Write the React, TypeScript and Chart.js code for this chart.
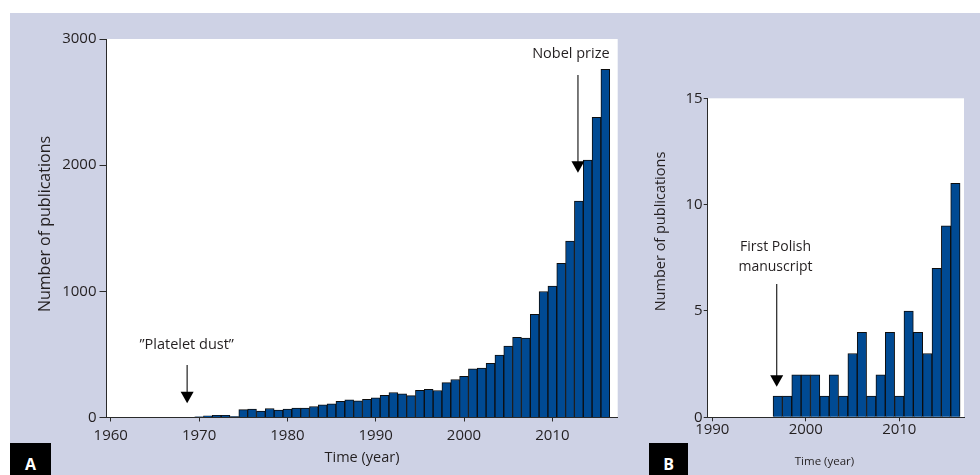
import React, { useEffect, useRef } from "react";
import { Chart, registerables } from "chart.js";

Chart.register(...registerables);

const FONT = "'Open Sans', 'Noto Sans', sans-serif";
const BG = "#ced2e5";
const BAR = "#004a93";
const EDGE = "#0d0d0d";
const AXIS = "#2a2a2a";
const TEXT = "#231f20";

// ---------- Panel A data ----------
const yearsA = [
  1970, 1971, 1972, 1973, 1974, 1975, 1976, 1977, 1978, 1979,
  1980, 1981, 1982, 1983, 1984, 1985, 1986, 1987, 1988, 1989,
  1990, 1991, 1992, 1993, 1994, 1995, 1996, 1997, 1998, 1999,
  2000, 2001, 2002, 2003, 2004, 2005, 2006, 2007, 2008, 2009,
  2010, 2011, 2012, 2013, 2014, 2015, 2016,
];
const publicationsA = [
  6, 13, 18, 18, 8, 63, 66, 50, 71, 58,
  66, 74, 74, 87, 100, 108, 129, 140, 132, 145,
  155, 176, 198, 187, 174, 216, 224, 214, 277, 301,
  327, 385, 391, 430, 495, 567, 636, 630, 817, 999,
  1041, 1221, 1398, 1715, 2040, 2380, 2760,
];
const xTicksA = [1960, 1970, 1980, 1990, 2000, 2010];
const yTicksA = [0, 1000, 2000, 3000];

// ---------- Panel B data ----------
const yearsB = [
  1997, 1998, 1999, 2000, 2001, 2002, 2003, 2004, 2005, 2006,
  2007, 2008, 2009, 2010, 2011, 2012, 2013, 2014, 2015, 2016,
];
const publicationsB = [1, 1, 2, 2, 2, 1, 2, 1, 3, 4, 1, 2, 4, 1, 5, 4, 3, 7, 9, 11];
const xTicksB = [1990, 2000, 2010];
const yTicksB = [0, 5, 10, 15];

// ---------- Text ----------
const xTitle = "Time (year)";
const yTitle = "Number of publications";
const noteDust = ["\u201DPlatelet dust\u201D"];
const noteNobel = ["Nobel prize"];
const notePolish = ["First Polish", "manuscript"];

type Note = {
  lines: string[];
  textX: number;
  textY: number;
  arrowX: number;
  arrowFrom: number;
  arrowTo: number;
};
type Title = { text: string; cx: number; cy: number; size: number; rotate?: boolean };

interface PanelSpec {
  years: number[];
  values: number[];
  xMin: number;
  xMax: number;
  yMax: number;
  xTicks: number[];
  yTicks: number[];
  padding: { left: number; top: number; right: number; bottom: number };
  yAxisWidth: number;
  xAxisHeight: number;
  yTickLen: number;
  yTickPad: number;
  xTickLen: number;
  xTickPad: number;
  tickSize: number;
  titles: Title[];
  notes: Note[];
  noteSize: number;
  noteLineGap: number;
}

const specA: PanelSpec = {
  years: yearsA,
  values: publicationsA,
  xMin: 1959.52,
  xMax: 2017.4,
  yMax: 3000,
  xTicks: xTicksA,
  yTicks: yTicksA,
  padding: { left: 0, top: 39, right: 22.3, bottom: 0 },
  yAxisWidth: 106.5,
  xAxisHeight: 57.5,
  yTickLen: 7,
  yTickPad: 3,
  xTickLen: 4,
  xTickPad: 7,
  tickSize: 15,
  titles: [
    { text: xTitle, cx: 362, cy: 458, size: 14.5 },
    { text: yTitle, cx: 45, cy: 224, size: 16, rotate: true },
  ],
  notes: [
    { lines: noteDust, textX: 1968.6, textY: 575, arrowX: 1968.65, arrowFrom: 416, arrowTo: 112 },
    { lines: noteNobel, textX: 2012.1, textY: 2881, arrowX: 2012.9, arrowFrom: 2714, arrowTo: 1940 },
  ],
  noteSize: 14.5,
  noteLineGap: 20,
};

const specB: PanelSpec = {
  years: yearsB,
  values: publicationsB,
  xMin: 1989.51,
  xMax: 2016.92,
  yMax: 15,
  xTicks: xTicksB,
  yTicks: yTicksB,
  padding: { left: 0, top: 98.3, right: 16, bottom: 0 },
  yAxisWidth: 67.7,
  xAxisHeight: 57.7,
  yTickLen: 4,
  yTickPad: 1,
  xTickLen: 4,
  xTickPad: 1,
  tickSize: 15,
  titles: [
    { text: xTitle, cx: 184.5, cy: 462, size: 11.5 },
    { text: yTitle, cx: 20.5, cy: 231.5, size: 14.5, rotate: true },
  ],
  notes: [
    { lines: notePolish, textX: 1996.76, textY: 8.03, arrowX: 1996.89, arrowFrom: 6.27, arrowTo: 1.44 },
  ],
  noteSize: 14,
  noteLineGap: 20,
};

function buildChart(canvas: HTMLCanvasElement, s: PanelSpec) {
  const overlay = {
    id: "overlay",
    beforeDraw(chart: any) {
      const { ctx, chartArea: a } = chart;
      ctx.save();
      ctx.fillStyle = "#ffffff";
      ctx.fillRect(a.left, a.top, a.right - a.left, a.bottom - a.top);
      ctx.restore();
    },
    afterDraw(chart: any) {
      const { ctx } = chart;
      const x = chart.scales.x;
      const y = chart.scales.y;
      ctx.save();
      ctx.textAlign = "center";
      ctx.textBaseline = "middle";
      for (const n of s.notes) {
        ctx.fillStyle = TEXT;
        ctx.font = `${s.noteSize}px ${FONT}`;
        const tx = x.getPixelForValue(n.textX);
        const ty = y.getPixelForValue(n.textY);
        n.lines.forEach((ln, i) => ctx.fillText(ln, tx, ty + i * s.noteLineGap));
        const ax = x.getPixelForValue(n.arrowX);
        const y0 = y.getPixelForValue(n.arrowFrom);
        const y1 = y.getPixelForValue(n.arrowTo);
        ctx.strokeStyle = "#222";
        ctx.lineWidth = 1.2;
        ctx.beginPath();
        ctx.moveTo(ax, y0);
        ctx.lineTo(ax, y1 - 10);
        ctx.stroke();
        ctx.fillStyle = "#000";
        ctx.beginPath();
        ctx.moveTo(ax - 6.5, y1 - 11.5);
        ctx.lineTo(ax + 6.5, y1 - 11.5);
        ctx.lineTo(ax, y1);
        ctx.closePath();
        ctx.fill();
      }
      for (const t of s.titles) {
        ctx.fillStyle = TEXT;
        ctx.font = `${t.size}px ${FONT}`;
        ctx.save();
        ctx.translate(t.cx, t.cy);
        if (t.rotate) ctx.rotate(-Math.PI / 2);
        ctx.fillText(t.text, 0, 0);
        ctx.restore();
      }
      ctx.restore();
    },
  };

  return new Chart(canvas, {
    type: "bar",
    data: {
      datasets: [
        {
          data: s.years.map((yr, i) => ({ x: yr, y: s.values[i] })),
          backgroundColor: BAR,
          borderColor: EDGE,
          borderWidth: 1,
          barPercentage: 1,
          categoryPercentage: 1,
        } as any,
      ],
    },
    options: {
      responsive: false,
      animation: false,
      devicePixelRatio: 1,
      layout: { padding: s.padding },
      plugins: {
        legend: { display: false },
        tooltip: { enabled: false },
        title: { display: false },
      },
      scales: {
        x: {
          type: "linear",
          min: s.xMin,
          max: s.xMax,
          offset: false,
          afterBuildTicks: (sc: any) => {
            sc.ticks = s.xTicks.map((v) => ({ value: v }));
          },
          afterFit: (sc: any) => {
            sc.height = s.xAxisHeight;
          },
          grid: {
            display: true,
            drawOnChartArea: false,
            drawTicks: true,
            tickLength: s.xTickLen,
            color: AXIS,
            offset: false,
          },
          border: { display: true, color: AXIS, width: 1 },
          ticks: {
            color: TEXT,
            font: { family: FONT, size: s.tickSize, lineHeight: 1 },
            padding: s.xTickPad,
            maxRotation: 0,
            autoSkip: false,
            callback: (v: any) => String(v),
          },
        },
        y: {
          type: "linear",
          min: 0,
          max: s.yMax,
          afterBuildTicks: (sc: any) => {
            sc.ticks = s.yTicks.map((v) => ({ value: v }));
          },
          afterFit: (sc: any) => {
            sc.width = s.yAxisWidth;
          },
          grid: {
            display: true,
            drawOnChartArea: false,
            drawTicks: true,
            tickLength: s.yTickLen,
            color: AXIS,
          },
          border: { display: true, color: AXIS, width: 1 },
          ticks: {
            color: TEXT,
            font: { family: FONT, size: s.tickSize, lineHeight: 1 },
            padding: s.yTickPad,
            autoSkip: false,
            callback: (v: any) => String(v),
          },
        },
      },
    } as any,
    plugins: [overlay],
  });
}

const labelBox: React.CSSProperties = {
  position: "absolute",
  top: 443,
  height: 32,
  boxSizing: "border-box",
  paddingTop: 13,
  background: "#000",
  color: "#fff",
  fontFamily: FONT,
  fontWeight: 700,
  fontSize: 16,
  lineHeight: 1,
  textAlign: "center",
};

export default function App() {
  const refA = useRef<HTMLCanvasElement>(null);
  const refB = useRef<HTMLCanvasElement>(null);

  useEffect(() => {
    const a = buildChart(refA.current as HTMLCanvasElement, specA);
    const b = buildChart(refB.current as HTMLCanvasElement, specB);
    return () => {
      a.destroy();
      b.destroy();
    };
  }, []);

  return (
    <div
      style={{
        position: "absolute",
        left: 0,
        top: 0,
        width: 980,
        height: 475,
        background: "#fff",
        overflow: "hidden",
      }}
    >
      <div style={{ position: "absolute", left: 10, top: 13, right: 0, bottom: 0, background: BG }} />
      <canvas
        ref={refA}
        width={640}
        height={475}
        style={{ position: "absolute", left: 0, top: 0, width: 640, height: 475 }}
      />
      <canvas
        ref={refB}
        width={340}
        height={475}
        style={{ position: "absolute", left: 640, top: 0, width: 340, height: 475 }}
      />
      <div style={{ ...labelBox, left: 10, width: 41 }}>A</div>
      <div style={{ ...labelBox, left: 649, width: 39 }}>B</div>
    </div>
  );
}
